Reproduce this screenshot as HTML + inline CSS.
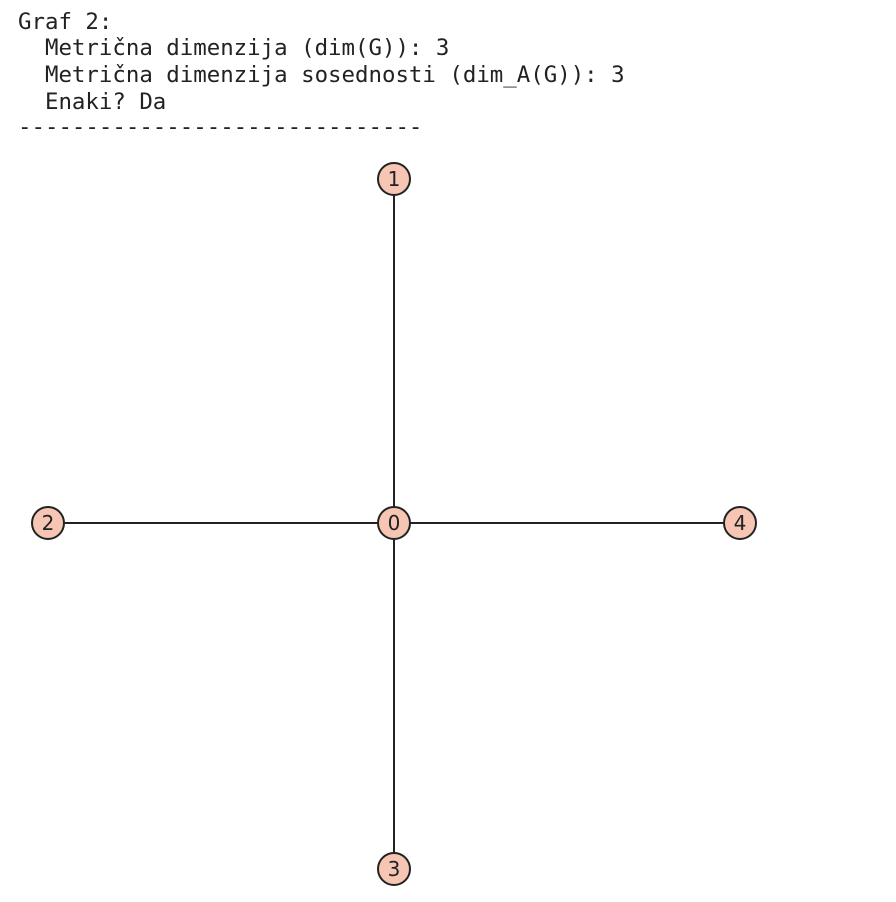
<!DOCTYPE html>
<html><head><meta charset="utf-8"><style>
html,body{margin:0;padding:0;background:#fff;width:896px;height:902px;overflow:hidden}
.t{position:absolute;left:18px;font-family:"DejaVu Sans Mono","Liberation Mono",monospace;font-size:22.4px;color:#222;white-space:pre;line-height:27px}
svg{position:absolute;left:0;top:0}
</style></head><body>
<div class="t" style="top:9px">Graf 2:</div>
<div class="t" style="top:35px">  Metrična dimenzija (dim(G)): 3</div>
<div class="t" style="top:62px">  Metrična dimenzija sosednosti (dim_A(G)): 3</div>
<div class="t" style="top:89px">  Enaki? Da</div>
<div class="t" style="top:114px">------------------------------</div>
<svg id="g" width="896" height="902"></svg>
<script>
const nodeIds=["0","1","2","3","4"];
const nodeX=[0,0,-1,0,1];
const nodeY=[0,1,0,-1,0];
const edges=[[0,1],[0,2],[0,3],[0,4]];
function sx(v){return 394+v*346;}
function sy(v){return v>=0?523-v*344:523-v*346;}
const svg=document.getElementById('g');
const NS="http://www.w3.org/2000/svg";
edges.forEach(e=>{
  const l=document.createElementNS(NS,'line');
  l.setAttribute('x1',sx(nodeX[e[0]]));l.setAttribute('y1',sy(nodeY[e[0]]));
  l.setAttribute('x2',sx(nodeX[e[1]]));l.setAttribute('y2',sy(nodeY[e[1]]));
  l.setAttribute('stroke','#222');l.setAttribute('stroke-width','2');
  
  
  svg.appendChild(l);
});
nodeIds.forEach((id,i)=>{
  const c=document.createElementNS(NS,'circle');
  c.setAttribute('cx',sx(nodeX[i]));c.setAttribute('cy',sy(nodeY[i]));c.setAttribute('r','16');
  c.setAttribute('fill','#f6c5b4');c.setAttribute('stroke','#222');c.setAttribute('stroke-width','2');
  
  
  svg.appendChild(c);
  const t=document.createElementNS(NS,'text');
  t.setAttribute('x',sx(nodeX[i]));t.setAttribute('y',sy(nodeY[i])+7);
  t.setAttribute('text-anchor','middle');t.setAttribute('font-family','DejaVu Sans, Liberation Sans, sans-serif');
  t.setAttribute('font-size','20');t.setAttribute('fill','#222');
  t.textContent=id;
  
  
  svg.appendChild(t);
});
</script>
</body></html>
